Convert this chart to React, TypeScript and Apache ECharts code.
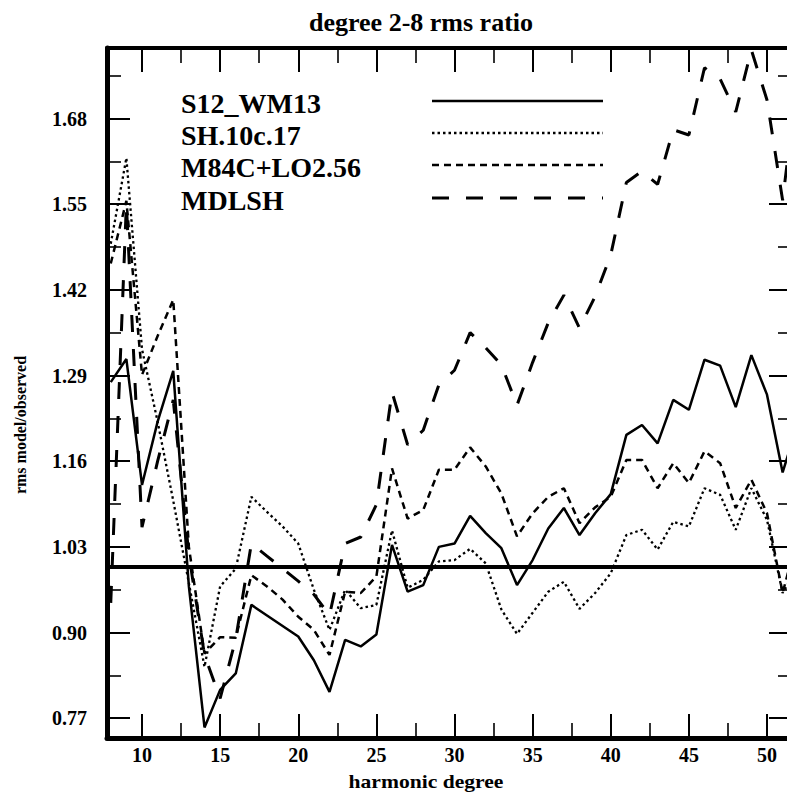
import React, { useEffect, useRef } from "react";
import * as echarts from "echarts";

// harmonic degrees sampled by every model curve
const degrees = [
  8, 9, 10, 11, 12, 13, 14, 15, 16, 17, 18, 19, 20, 21, 22, 23, 24, 25, 26, 27,
  28, 29, 30, 31, 32, 33, 34, 35, 36, 37, 38, 39, 40, 41, 42, 43, 44, 45, 46,
  47, 48, 49, 50, 51, 52,
];

const s12wm13 = [
  1.28, 1.315, 1.124, 1.22, 1.297, 0.97, 0.756, 0.813, 0.838, 0.942, 0.926,
  0.91, 0.894, 0.858, 0.81, 0.889, 0.879, 0.897, 1.033, 0.962, 0.972, 1.03,
  1.035, 1.077, 1.051, 1.028, 0.972, 1.01, 1.058, 1.089, 1.048, 1.081, 1.11,
  1.2, 1.215, 1.187, 1.253, 1.238, 1.314, 1.305, 1.242, 1.321, 1.261, 1.143,
  1.22,
];

const sh10c17 = [
  1.49, 1.62, 1.33, 1.22, 1.1, 0.975, 0.848, 0.97, 0.997, 1.106, 1.083, 1.061,
  1.035, 0.965, 0.904, 0.965, 0.937, 0.942, 1.055, 0.968, 0.98, 1.008, 1.01,
  1.027, 1.005, 0.935, 0.898, 0.93, 0.962, 0.977, 0.936, 0.96, 0.99, 1.048,
  1.056, 1.026, 1.068, 1.061, 1.119, 1.109, 1.056, 1.119, 1.071, 0.96, 1.0,
];

const m84cLo256 = [
  1.46, 1.555, 1.291, 1.35, 1.405, 1.03, 0.868, 0.893, 0.892, 0.987, 0.97,
  0.95, 0.924, 0.904, 0.866, 0.962, 0.96, 0.985, 1.149, 1.073, 1.086, 1.147,
  1.147, 1.181, 1.152, 1.111, 1.046, 1.081, 1.106, 1.119, 1.066, 1.09, 1.106,
  1.162, 1.162, 1.119, 1.157, 1.127, 1.175, 1.157, 1.089, 1.132, 1.081, 0.96,
  1.05,
];

const mdlsh = [
  0.945, 1.55, 1.06, 1.16, 1.253, 1.018, 0.866, 0.8, 0.89, 1.035, 1.016,
  0.997, 0.978, 0.958, 0.926, 1.035, 1.045, 1.094, 1.265, 1.185, 1.207, 1.276,
  1.298, 1.355, 1.332, 1.306, 1.245, 1.31, 1.37, 1.412, 1.362, 1.41, 1.473,
  1.583, 1.6, 1.58, 1.663, 1.655, 1.757, 1.74, 1.69, 1.784, 1.708, 1.556,
  1.75,
];

const seriesNames = ["S12_WM13", "SH.10c.17", "M84C+LO2.56", "MDLSH"];

const xTickLabels = [10, 15, 20, 25, 30, 35, 40, 45, 50];
const xMinorTicks = [12.5, 17.5, 22.5, 27.5, 32.5, 37.5, 42.5, 47.5];
const yTickLabels = [0.77, 0.9, 1.03, 1.16, 1.29, 1.42, 1.55, 1.68];
const yMinorTicks = [0.835, 0.965, 1.095, 1.225, 1.355, 1.485, 1.615, 1.745];

const X_MIN = 7.76;
const X_MAX = 51.6;
const Y_MIN = 0.74;
const Y_MAX = 1.787;

const SERIF = "'Liberation Serif', 'DejaVu Serif', serif";

const styles = [
  { width: 2.5, type: "solid" as const },
  { width: 2.3, type: [2.5, 3] },
  { width: 2.5, type: [7, 5] },
  { width: 3, type: [17, 17] },
];

const pairs = (vals: number[]) => degrees.map((d, i) => [d, vals[i]]);

function majorX(position: "bottom" | "top", withLabels: boolean) {
  return {
    type: "value",
    gridIndex: 0,
    position,
    min: X_MIN,
    max: X_MAX,
    axisLine: { show: true, onZero: false, lineStyle: { color: "#000", width: withLabels ? 5 : 4 } },
    axisTick: {
      show: true,
      inside: true,
      length: 24,
      customValues: xTickLabels,
      lineStyle: { color: "#000", width: 2 },
    },
    axisLabel: {
      show: withLabels,
      customValues: xTickLabels,
      color: "#000",
      fontFamily: SERIF,
      fontWeight: "bold",
      fontSize: 20,
      margin: 7,
    },
    splitLine: { show: false },
  };
}

function minorX(position: "bottom" | "top") {
  return {
    type: "value",
    gridIndex: 1,
    position,
    min: X_MIN,
    max: X_MAX,
    axisLine: { show: false, onZero: false },
    axisTick: {
      show: true,
      inside: true,
      length: 15,
      customValues: xMinorTicks,
      lineStyle: { color: "#000", width: 1.6 },
    },
    axisLabel: { show: false },
    splitLine: { show: false },
  };
}

function majorY(position: "left" | "right", withLabels: boolean) {
  return {
    type: "value",
    gridIndex: 0,
    position,
    min: Y_MIN,
    max: Y_MAX,
    axisLine: { show: true, onZero: false, lineStyle: { color: "#000", width: withLabels ? 5 : 4 } },
    axisTick: {
      show: true,
      inside: true,
      length: 23,
      customValues: yTickLabels,
      lineStyle: { color: "#000", width: 2 },
    },
    axisLabel: {
      show: withLabels,
      customValues: yTickLabels,
      formatter: (v: number) => v.toFixed(2),
      color: "#000",
      fontFamily: SERIF,
      fontWeight: "bold",
      fontSize: 20,
      margin: 20,
    },
    splitLine: { show: false },
  };
}

function minorY(position: "left" | "right") {
  return {
    type: "value",
    gridIndex: 1,
    position,
    min: Y_MIN,
    max: Y_MAX,
    axisLine: { show: false, onZero: false },
    axisTick: {
      show: true,
      inside: true,
      length: 14,
      customValues: yMinorTicks,
      lineStyle: { color: "#000", width: 1.6 },
    },
    axisLabel: { show: false },
    splitLine: { show: false },
  };
}

const legendTop = [103, 135, 167, 200];

export default function App() {
  const ref = useRef<HTMLDivElement>(null);

  useEffect(() => {
    if (!ref.current) return;
    const chart = echarts.init(ref.current, null, { renderer: "svg" });
    const gridBox = { left: 107, right: 8, top: 48, bottom: 54 };
    const allSeries = [s12wm13, sh10c17, m84cLo256, mdlsh];

    const legendGraphics: any[] = [];
    seriesNames.forEach((name, i) => {
      legendGraphics.push({
        type: "text",
        x: 181,
        y: legendTop[i],
        style: {
          text: name,
          fill: "#000",
          font: `bold 28px ${SERIF}`,
          textVerticalAlign: "middle",
        },
      });
      const y = legendTop[i] - 2;
      legendGraphics.push({
        type: "line",
        shape: { x1: 432, y1: y, x2: 603, y2: y },
        style: {
          stroke: "#000",
          lineWidth: styles[i].width,
          lineDash: styles[i].type === "solid" ? null : (styles[i].type as number[]),
        },
      });
    });

    chart.setOption({
      animation: false,
      backgroundColor: "#fff",
      grid: [
        { ...gridBox, containLabel: false },
        { ...gridBox, containLabel: false },
      ],
      xAxis: [majorX("bottom", true), majorX("top", false), minorX("bottom"), minorX("top")],
      yAxis: [majorY("left", true), majorY("right", false), minorY("left"), minorY("right")],
      series: [
        ...allSeries.map((vals, i) => ({
          name: seriesNames[i],
          type: "line",
          xAxisIndex: 0,
          yAxisIndex: 0,
          data: pairs(vals),
          symbol: "none",
          silent: true,
          clip: true,
          lineStyle: { color: "#000", width: styles[i].width, type: styles[i].type },
          markLine:
            i === 0
              ? {
                  silent: true,
                  symbol: ["none", "none"],
                  label: { show: false },
                  lineStyle: { color: "#000", width: 4, type: "solid" },
                  data: [{ yAxis: 1.0 }],
                }
              : undefined,
        })),
        { type: "line", xAxisIndex: 2, yAxisIndex: 2, data: [], symbol: "none" },
      ],
      graphic: [
        {
          type: "text",
          x: 421,
          y: 22,
          style: {
            text: "degree 2-8 rms ratio",
            fill: "#000",
            font: `bold 26px ${SERIF}`,
            textAlign: "center",
            textVerticalAlign: "middle",
          },
        },
        {
          type: "text",
          x: 426,
          y: 782,
          scaleX: 1.2,
          style: {
            text: "harmonic degree",
            fill: "#000",
            font: `bold 18px ${SERIF}`,
            textAlign: "center",
            textVerticalAlign: "middle",
          },
        },
        {
          type: "text",
          x: 20,
          y: 425,
          rotation: Math.PI / 2,
          style: {
            text: "rms model/observed",
            fill: "#000",
            font: `bold 16px ${SERIF}`,
            textAlign: "center",
            textVerticalAlign: "middle",
          },
        },
        ...legendGraphics,
      ],
    });

    return () => chart.dispose();
  }, []);

  return (
    <div
      style={{
        position: "fixed",
        left: 0,
        top: 0,
        width: 787,
        height: 792,
        overflow: "hidden",
        background: "#fff",
      }}
    >
      <div ref={ref} style={{ width: 800, height: 792 }} />
    </div>
  );
}
